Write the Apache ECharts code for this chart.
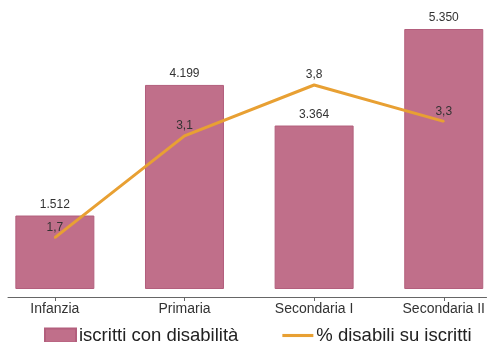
<!DOCTYPE html>
<html><head><meta charset="utf-8">
<script src="https://cdn.jsdelivr.net/npm/echarts@6/dist/echarts.min.js"></script>
<style>html,body{margin:0;padding:0;background:#fff}#c{width:488px;height:342px}</style>
</head><body><div id="c"></div>
<script>
const categories = ['Infanzia', 'Primaria', 'Secondaria I', 'Secondaria II'];
const iscritti = [1512, 4199, 3364, 5350];
const percentuali = [1.7, 3.1, 3.8, 3.3];
const seriesNames = ['iscritti con disabilità', '% disabili su iscritti'];

const chart = echarts.init(document.getElementById('c'), null, {renderer: 'canvas'});
const font = 'Liberation Sans, Arial, sans-serif';
chart.setOption({
  animation: false,
  textStyle: {fontFamily: font},
  grid: {left: 8, right: 0, top: 29, bottom: 53},
  legend: {
    top: 326, left: 44, padding: 0, itemWidth: 31, itemHeight: 14, itemGap: 44,
    textStyle: {fontSize: 18.5, color: '#222', fontFamily: font, padding: [0, 0, 0, -2]},
    data: [
      {name: seriesNames[0], icon: 'rect'},
      {name: seriesNames[1], icon: 'path://M0,0H30V3H0Z'}
    ]
  },
  xAxis: {
    type: 'value', min: -0.3615, max: 3.33, offset: 8,
    splitLine: {show: false},
    axisLine: {show: true, onZero: false, lineStyle: {color: '#666'}},
    axisTick: {show: true, customValues: [0, 1, 2, 3], length: 4, lineStyle: {color: '#666'}},
    axisLabel: {customValues: [0, 1, 2, 3], color: '#333', fontSize: 14, margin: 5,
      formatter: v => categories[Math.round(v)] || ''}
  },
  yAxis: [
    {type: 'value', min: 0, max: 5350, show: false, splitLine: {show: false}},
    {type: 'value', min: 0.994, max: 4.57, show: false, splitLine: {show: false}}
  ],
  series: [
    {
      name: seriesNames[0], type: 'bar', yAxisIndex: 0, barWidth: 79,
      data: iscritti.map((v, i) => [i, v]),
      itemStyle: {color: '#C06F8A', borderColor: '#B35F7D', borderWidth: 1},
      label: {show: true, position: 'top', distance: 5, color: '#333', fontSize: 12,
        formatter: p => p.value[1].toLocaleString('it-IT')}
    },
    {
      name: seriesNames[1], type: 'line', yAxisIndex: 1, symbol: 'circle', symbolSize: 2,
      showSymbol: true,
      data: percentuali.map((v, i) => [i, v]),
      lineStyle: {color: '#E8A033', width: 3},
      itemStyle: {color: '#E8A033'},
      label: {show: true, position: 'top', distance: 3, color: '#333', fontSize: 12,
        formatter: p => String(p.value[1]).replace('.', ',')}
    }
  ]
});
</script></body></html>
